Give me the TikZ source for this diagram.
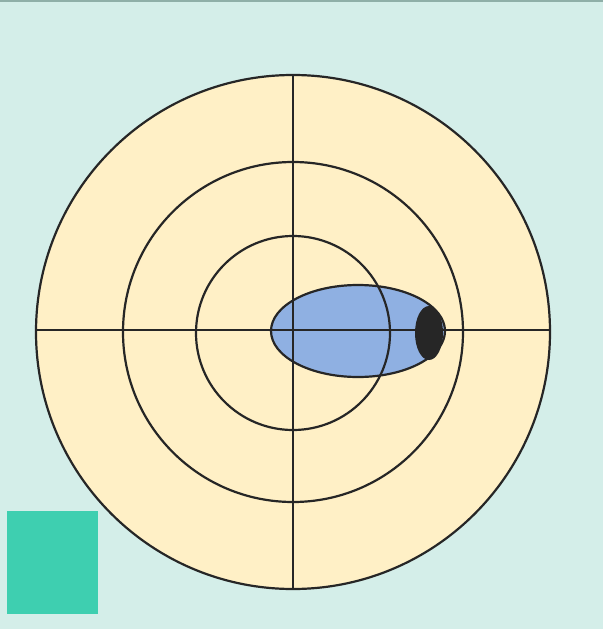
\documentclass[tikz,border=0pt]{standalone}
\definecolor{bgc}{HTML}{D4EEE9}
\definecolor{ringfill}{HTML}{FFF0C6}
\definecolor{blueblob}{HTML}{8FB0E2}
\definecolor{teal}{HTML}{3ECFB0}
\definecolor{inkc}{HTML}{262626}
\definecolor{topline}{HTML}{8FAFA8}
\tikzset{ring/.style={draw=inkc,line width=2.2pt}}
\begin{document}
\begin{tikzpicture}[x=1pt,y=-1pt]
\fill[bgc] (0,0) rectangle (603,629);
\useasboundingbox (0,0) rectangle (603,629);
\draw[topline,line width=1.5pt] (0,0.75) -- (603,0.75);
% big disc
\fill[ringfill] (293,332) circle (257);
% blue blob
\filldraw[fill=blueblob,draw=inkc,line width=2.2pt] (358,331) ellipse (87 and 46);
\fill[inkc] (429,333) ellipse (14 and 27);
% rings
\draw[ring] (293,332) circle (257);
\draw[ring] (293,332) circle (170);
\draw[ring] (293,333) circle (97);
% crosshair
\draw[ring] (36,330) -- (550,330);
\draw[ring] (293,75) -- (293,590);
% teal square
\fill[teal] (7,511) rectangle (98,614);
\end{tikzpicture}
\end{document}
